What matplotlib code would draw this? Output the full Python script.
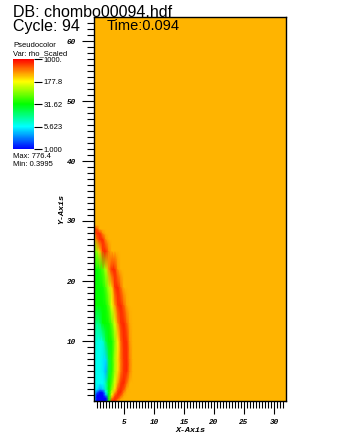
import numpy as np
import matplotlib
matplotlib.use("Agg")
import matplotlib.pyplot as plt
from matplotlib.colors import LinearSegmentedColormap, LogNorm

# ---------------- data (log10 of rho_Scaled) ----------------
BG = 2.47
x_nodes = [0, 0.5, 1, 1.5, 2, 2.5, 3, 3.5, 4, 4.5, 5, 5.5, 6, 6.5, 7]
y_nodes = [0, 0.5, 1, 1.5, 2, 3, 5, 7, 10, 13, 16, 19, 22, 25, 27, 28, 28.7, 29.3]
profile_rows = [
    [0.6, -0.2, -0.2, -0.2, -0.1, 1.6, 2.85, 2.85, 2.55],
    [0.6, -0.2, -0.2, -0.2, 0.0, 1.6, 2.6, 2.88, 2.8, 2.55],
    [0.7, -0.1, -0.2, -0.2, 0.5, 1.5, 2.3, 2.75, 2.88, 2.75, 2.5],
    [0.75, 0.3, -0.1, 0.1, 0.8, 1.5, 2.1, 2.5, 2.85, 2.88, 2.6],
    [0.8, 0.7, 0.5, 0.6, 1.0, 1.5, 1.9, 2.35, 2.75, 2.88, 2.75, 2.5],
    [0.8, 0.8, 0.75, 0.75, 1.0, 1.5, 1.75, 2.15, 2.55, 2.85, 2.88, 2.65],
    [0.8, 0.8, 0.8, 0.7, 0.55, 1.35, 1.6, 2.0, 2.35, 2.65, 2.85, 2.88, 2.6],
    [0.85, 0.8, 0.8, 0.7, 0.65, 1.35, 1.6, 2.0, 2.35, 2.65, 2.85, 2.88, 2.6],
    [0.9, 0.85, 0.8, 0.9, 1.3, 1.5, 1.55, 1.9, 2.3, 2.7, 2.88, 2.85, 2.55],
    [1.2, 1.1, 1.2, 1.5, 1.5, 1.55, 1.8, 2.15, 2.6, 2.85, 2.88, 2.7, 2.5],
    [1.5, 1.5, 1.5, 1.5, 1.55, 1.8, 2.2, 2.55, 2.85, 2.88, 2.7, 2.5],
    [1.5, 1.5, 1.5, 1.55, 1.75, 2.05, 2.4, 2.85, 2.88, 2.65],
    [1.5, 1.5, 1.6, 1.75, 2.05, 2.6, 2.88, 2.85, 2.55],
    [1.7, 2.0, 2.4, 2.85, 2.88, 2.6],
    [2.3, 2.7, 2.88, 2.85, 2.55],
    [2.6, 2.88, 2.85, 2.55],
    [2.85, 2.75],
    [],
]
cbar_ticks = [1.0, 5.623, 31.62, 177.8, 1000.0]
cbar_labels = ["1.000", "5.623", "31.62", "177.8", "1000."]
x_ticks = [5, 10, 15, 20, 25, 30]
y_ticks = [10, 20, 30, 40, 50, 60]
db_name = "DB: chombo00094.hdf"
cycle_text = "Cycle: 94"
time_text = "Time:0.094"
var_text = "Var: rho_Scaled"
max_text = "Max: 776.4"
min_text = "Min: 0.3995"

# rows are padded with the ambient (background) value
log_rho = np.array([row + [BG] * (len(x_nodes) - len(row)) for row in profile_rows], float)

# ---------------- figure ----------------
W, H = 342, 445
fig = plt.figure(figsize=(W / 100, H / 100), dpi=100)

cmap = LinearSegmentedColormap.from_list(
    "visit_hot",
    [(0.0, (0, 0, 1)), (0.25, (0, 1, 1)), (0.5, (0, 1, 0)),
     (0.75, (1, 1, 0)), (1.0, (1, 0, 0))])
cmap.set_under((0, 0, 1))
norm = LogNorm(vmin=1, vmax=1000)

def px_axes(x0, y0, x1, y1):
    return fig.add_axes([x0 / W, 1 - y1 / H, (x1 - x0) / W, (y1 - y0) / H])

ax = px_axes(94, 17, 286, 401)
X, Y = np.meshgrid(np.array(x_nodes, float), np.array(y_nodes, float))
C = 10 ** log_rho
ax.set_facecolor(cmap(norm(10 ** BG)))
ax.pcolormesh(X, Y, C, cmap=cmap, norm=norm, shading="gouraud", rasterized=True)
ax.set_xlim(0, 32)
ax.set_ylim(0, 64)

tick_font = dict(family="Liberation Mono", weight="bold", style="italic", size=5.5)
ax.set_xticks(x_ticks)
ax.set_yticks(y_ticks)
ax.set_xticks(np.arange(0.5, 32, 0.5), minor=True)
ax.set_yticks(np.arange(1, 64, 1), minor=True)
ax.set_xticklabels([str(v) for v in x_ticks], fontdict=tick_font)
ax.set_yticklabels([str(v) for v in y_ticks], fontdict=tick_font)
ax.tick_params(which="major", direction="out", length=9, width=0.8, pad=4, colors="black")
ax.tick_params(which="minor", direction="out", length=5, width=0.8)
for s in ax.spines.values():
    s.set_linewidth(1.0)
ax.set_xlabel("X-Axis", fontdict=dict(family="Liberation Mono", weight="bold",
                                         style="italic", size=6), labelpad=1)
ax.set_ylabel("Y-Axis", fontdict=dict(family="Liberation Mono", weight="bold",
                                         style="italic", size=6), labelpad=1)

# ---------------- texts ----------------
fig.text(13 / W, 1 - 17 / H, db_name, family="Liberation Sans", size=11.5, va="baseline")
fig.text(13 / W, 1 - 31 / H, cycle_text, family="Liberation Sans", size=11.5, va="baseline")
fig.text(107 / W, 1 - 30 / H, time_text, family="Liberation Sans", size=10.5, va="baseline")

small = dict(family="Liberation Sans", size=5.5)
fig.text(13 / W, 1 - 47 / H, "Pseudocolor", va="baseline", **small)
fig.text(13 / W, 1 - 55 / H, var_text, va="baseline", **small)
fig.text(13 / W, 1 - 158 / H, max_text, va="baseline", **small)
fig.text(13 / W, 1 - 166 / H, min_text, va="baseline", **small)

# ---------------- colorbar ----------------
cax = px_axes(13, 59, 34, 149)
grad = np.logspace(0, 3, 256).reshape(-1, 1)
cax.pcolormesh([0, 1], np.logspace(0, 3, 257), grad, cmap=cmap, norm=norm)
cax.set_yscale("log")
cax.set_ylim(1, 1000)
cax.set_xlim(0, 1)
for s in cax.spines.values():
    s.set_visible(False)
cax.set_xticks([])
cax.yaxis.tick_right()
cax.set_yticks(cbar_ticks)
cax.set_yticks([], minor=True)
cax.set_yticklabels(cbar_labels, family="Liberation Sans", size=5.5)
cax.tick_params(axis="y", direction="out", length=6, width=0.8, pad=1)

fig.savefig("out.png", dpi=100)
